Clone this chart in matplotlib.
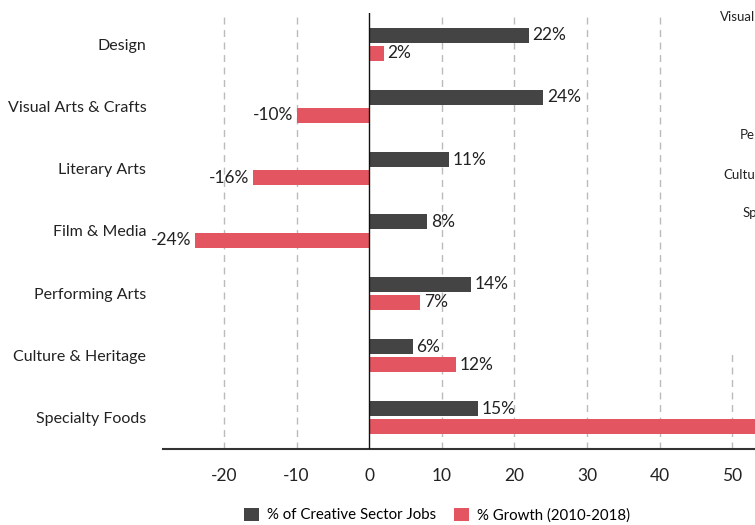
import matplotlib
matplotlib.use("Agg")
import matplotlib.pyplot as plt
import numpy as np

plt.rcParams['font.family'] = ['Lato', 'DejaVu Sans']

categories = ["Design", "Visual Arts & Crafts", "Literary Arts", "Film & Media",
              "Performing Arts", "Culture & Heritage", "Specialty Foods"]
jobs_share = [22, 24, 11, 8, 14, 6, 15]
growth = [2, -10, -16, -24, 7, 12, 58]
x_ticks = [-20, -10, 0, 10, 20, 30, 40, 50]
# labels from a neighbouring chart that peek in at the right edge
side_labels = ["Visual", "Pe", "Cultu", "Sp"]
side_label_y = [17, 135, 175, 213]
side_label_x = [720, 740, 723, 743]

DARK = "#444444"
RED = "#e35560"

W, H = 755, 525
fig = plt.figure(figsize=(W / 100, H / 100), dpi=100)

# axes runs past the right edge of the picture, like the cropped original
x_left, x_right = -28.4, 60
px_per_unit = 7.26
ax_left_px, ax_top_px, ax_bot_px = 163, 13, 449
ax_w_px = (x_right - x_left) * px_per_unit
ax = fig.add_axes([ax_left_px / W, 1 - ax_bot_px / H, ax_w_px / W, (ax_bot_px - ax_top_px) / H])
visible_max = (W - ax_left_px) / px_per_unit + x_left

y = np.arange(len(categories))
off = 0.145
h = 0.24
ax.barh(y - off, jobs_share, height=h, color=DARK, zorder=3, label="% of Creative Sector Jobs")
ax.barh(y + off, growth, height=h, color=RED, zorder=3, label="% Growth (2010-2018)")

fs = 11.5
vfs = 12.5
for yi, v in zip(y, jobs_share):
    ax.text(v + 0.5, yi - off, f"{v}%", va="center", ha="left", fontsize=vfs, color="#222222")
for yi, v in zip(y, growth):
    if v >= 0:
        if v + 6 < visible_max:  # label of the long bar falls outside the crop
            ax.text(v + 0.5, yi + off, f"{v}%", va="center", ha="left", fontsize=vfs, color="#222222")
    else:
        ax.text(v - 0.5, yi + off, f"{v}%", va="center", ha="right", fontsize=vfs, color="#222222")

ax.set_xlim(x_left, x_right)
ax.set_ylim(len(categories) - 0.5, -0.5)

for t in x_ticks:
    if t == 0:
        continue
    top = 0.23 if t == 50 else 1
    ax.axvline(t, ymax=top, color="#bbbbbb", lw=1, ls=(0, (5, 4)), zorder=1)
ax.axvline(0, color="#111111", lw=1, zorder=4)

ax.set_xticks(x_ticks)
ax.set_xticklabels([str(t) for t in x_ticks], fontsize=12.5)
ax.set_yticks(y)
ax.set_yticklabels(categories, fontsize=fs)
ax.tick_params(axis="both", length=0, colors="#222222")
ax.tick_params(axis="x", pad=14)
ax.tick_params(axis="y", pad=12)
for s in ["top", "right", "left"]:
    ax.spines[s].set_visible(False)
ax.spines["bottom"].set_color("#333333")
ax.spines["bottom"].set_linewidth(1.5)

fig.legend(loc="center", bbox_to_anchor=(437 / W, 1 - 515 / H), ncol=2, frameon=False,
           fontsize=10.8, handlelength=1.0, handleheight=1.0, handletextpad=0.5,
           columnspacing=1.2)

for txt, tx, ty in zip(side_labels, side_label_x, side_label_y):
    fig.text(tx / W, 1 - ty / H, txt, fontsize=9.5, va="center", ha="left", color="#222222")

fig.savefig("out.png", dpi=100)
